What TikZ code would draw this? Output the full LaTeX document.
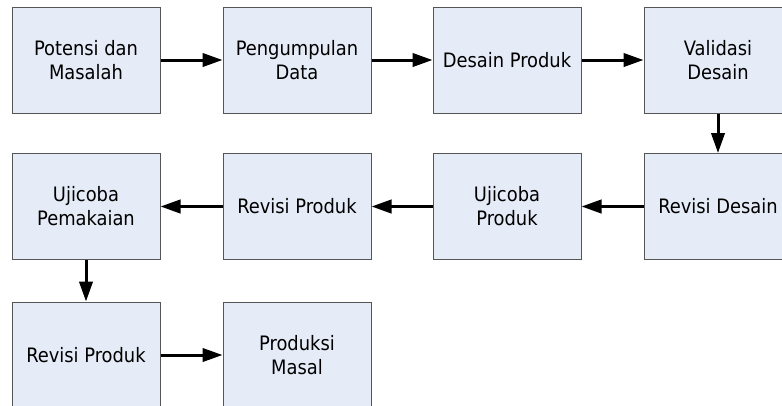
\documentclass[tikz,border=0pt]{standalone}
\usepackage{fontspec}
\setmainfont{DejaVu Sans Condensed}
\usetikzlibrary{arrows.meta}
\definecolor{boxfill}{RGB}{230,236,247}
\definecolor{boxline}{RGB}{85,85,85}
\tikzset{
  stepbox/.style={draw=boxline, line width=0.75pt, fill=boxfill, minimum width=111pt, minimum height=79.5pt, align=center, inner sep=0pt, font=\fontsize{14.9}{18}\selectfont},
  flow/.style={line width=2.25pt, -{Triangle[length=15pt, width=10pt]}}
}
\begin{document}
\begin{tikzpicture}[x=0.75pt, y=-0.75pt]
\useasboundingbox (0,0) rectangle (782,405);

\node[stepbox] (potensi) at (86,60) {Potensi dan\\Masalah};
\node[stepbox] (data) at (297,60) {Pengumpulan\\Data};
\node[stepbox] (desain) at (507,60) {Desain Produk};
\node[stepbox] (validasi) at (718,60) {Validasi\\Desain};

\node[stepbox] (ujipakai) at (86,206.5) {Ujicoba\\Pemakaian};
\node[stepbox] (revproduk) at (297,206.5) {Revisi Produk};
\node[stepbox] (ujiproduk) at (507,206.5) {Ujicoba\\Produk};
\node[stepbox] (revdesain) at (718,206.5) {Revisi Desain};

\node[stepbox] (revproduk2) at (86,355) {Revisi Produk};
\node[stepbox] (masal) at (297,355) {Produksi\\Masal};

\draw[flow] (potensi) -- (data);
\draw[flow] (data) -- (desain);
\draw[flow] (desain) -- (validasi);
\draw[flow] (validasi) -- (revdesain);
\draw[flow] (revdesain) -- (ujiproduk);
\draw[flow] (ujiproduk) -- (revproduk);
\draw[flow] (revproduk) -- (ujipakai);
\draw[flow] (ujipakai) -- (revproduk2);
\draw[flow] (revproduk2) -- (masal);

\end{tikzpicture}
\end{document}
